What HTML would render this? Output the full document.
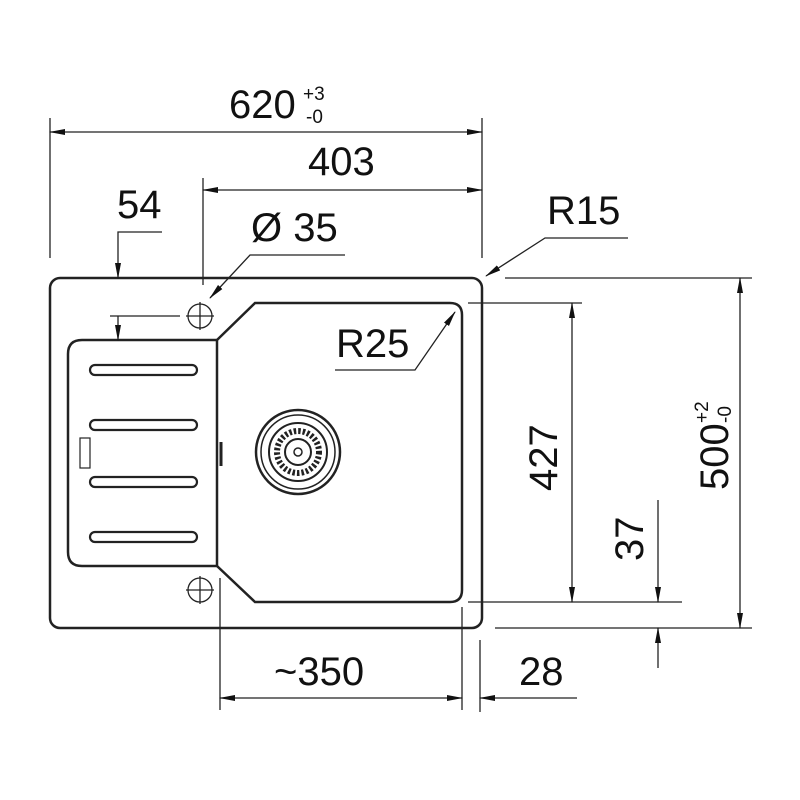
<!DOCTYPE html>
<html><head><style>body{margin:0;background:#fff}svg{display:block}</style></head><body>
<svg width="800" height="800" viewBox="0 0 800 800" xmlns="http://www.w3.org/2000/svg" font-family="Liberation Sans, Arial, sans-serif">
<defs>
<marker id="a" markerWidth="16" markerHeight="8" refX="15" refY="4" orient="auto-start-reverse" markerUnits="userSpaceOnUse"><path d="M0,1 L16,4 L0,7 Z" fill="#111"/></marker>
</defs>
<g fill="none" stroke="#222">
<rect x="50" y="278" width="432" height="350" rx="10" stroke-width="2.5"/>
<path d="M217,340 L82,340 Q68,340 68,354 L68,552 Q68,566 82,566 L217,566 Z" stroke-width="2.5"/>
<path d="M217,340 L255,303 L450,303 Q462,303 462,315 L462,590 Q462,602 450,602 L255,602 L217,566" stroke-width="2.5"/>
<g stroke-width="2.2">
<rect x="90" y="365" width="107" height="10" rx="5"/>
<rect x="90" y="420" width="107" height="10" rx="5"/>
<rect x="90" y="477" width="107" height="10" rx="5"/>
<rect x="90" y="532" width="107" height="10" rx="5"/>
</g>
<rect x="80" y="438" width="10" height="30" stroke-width="1.2"/>
<line x1="221" y1="442" x2="221" y2="466" stroke-width="3"/>
<circle cx="298" cy="452" r="42" stroke-width="2.5"/>
<circle cx="298" cy="452" r="37" stroke-width="1.5"/>
<circle cx="298" cy="452" r="29" stroke-width="2"/>
<circle cx="298" cy="452" r="21" stroke-width="6" stroke-dasharray="2.5 2"/>
<circle cx="298" cy="452" r="13" stroke-width="2"/>
<circle cx="298" cy="452" r="4" stroke-width="1.5"/>
<g stroke-width="1.3">
<circle cx="200" cy="316" r="12"/><line x1="186" y1="316" x2="214" y2="316"/><line x1="200" y1="302" x2="200" y2="330"/>
<circle cx="200" cy="590" r="12"/><line x1="186" y1="590" x2="214" y2="590"/><line x1="200" y1="576" x2="200" y2="604"/>
</g>
<g stroke-width="1.3">
<line x1="50" y1="118" x2="50" y2="258"/><line x1="482" y1="118" x2="482" y2="258"/>
<line x1="50" y1="132" x2="482" y2="132" marker-start="url(#a)" marker-end="url(#a)"/>
<line x1="203" y1="178" x2="203" y2="285"/>
<line x1="203" y1="190" x2="482" y2="190" marker-start="url(#a)" marker-end="url(#a)"/>
<path d="M162,232 L118,232 L118,278" marker-end="url(#a)"/>
<line x1="118" y1="316" x2="118" y2="340" marker-end="url(#a)"/>
<line x1="110" y1="316" x2="180" y2="316"/>
<path d="M345,255 L250,255 L210,298" marker-end="url(#a)"/>
<path d="M628,238 L545,238 L486,276" marker-end="url(#a)"/>
<path d="M335,370 L415,370 L455,312" marker-end="url(#a)"/>
<line x1="468" y1="303" x2="582" y2="303"/><line x1="468" y1="602" x2="682" y2="602"/>
<line x1="572" y1="303" x2="572" y2="602" marker-start="url(#a)" marker-end="url(#a)"/>
<line x1="505" y1="278" x2="752" y2="278"/><line x1="495" y1="628" x2="752" y2="628"/>
<line x1="740" y1="278" x2="740" y2="628" marker-start="url(#a)" marker-end="url(#a)"/>
<line x1="658" y1="500" x2="658" y2="602" marker-end="url(#a)"/>
<line x1="658" y1="668" x2="658" y2="628" marker-end="url(#a)"/>
<line x1="220" y1="578" x2="220" y2="710"/>
<line x1="462" y1="607" x2="462" y2="710"/>
<line x1="480" y1="640" x2="480" y2="712"/>
<line x1="220" y1="698" x2="462" y2="698" marker-start="url(#a)" marker-end="url(#a)"/>
<line x1="577" y1="698" x2="480" y2="698" marker-end="url(#a)"/>
</g>
</g>
<g fill="#111" font-size="40">
<text x="229" y="118">620</text>
<text x="303" y="100" font-size="19">+3</text>
<text x="306" y="123" font-size="19">-0</text>
<text x="308" y="175">403</text>
<text x="117" y="218">54</text>
<text x="251" y="241">Ø 35</text>
<text x="547" y="224">R15</text>
<text x="336" y="357">R25</text>
<text x="274" y="685">~350</text>
<text x="519" y="685">28</text>
<text transform="translate(557,491) rotate(-90)">427</text>
<text transform="translate(643,561) rotate(-90)">37</text>
<text transform="translate(728,490) rotate(-90)">500</text>
<text transform="translate(708,423) rotate(-90)" font-size="19">+2</text>
<text transform="translate(731,423) rotate(-90)" font-size="19">-0</text>
</g>
</svg>
</body></html>
